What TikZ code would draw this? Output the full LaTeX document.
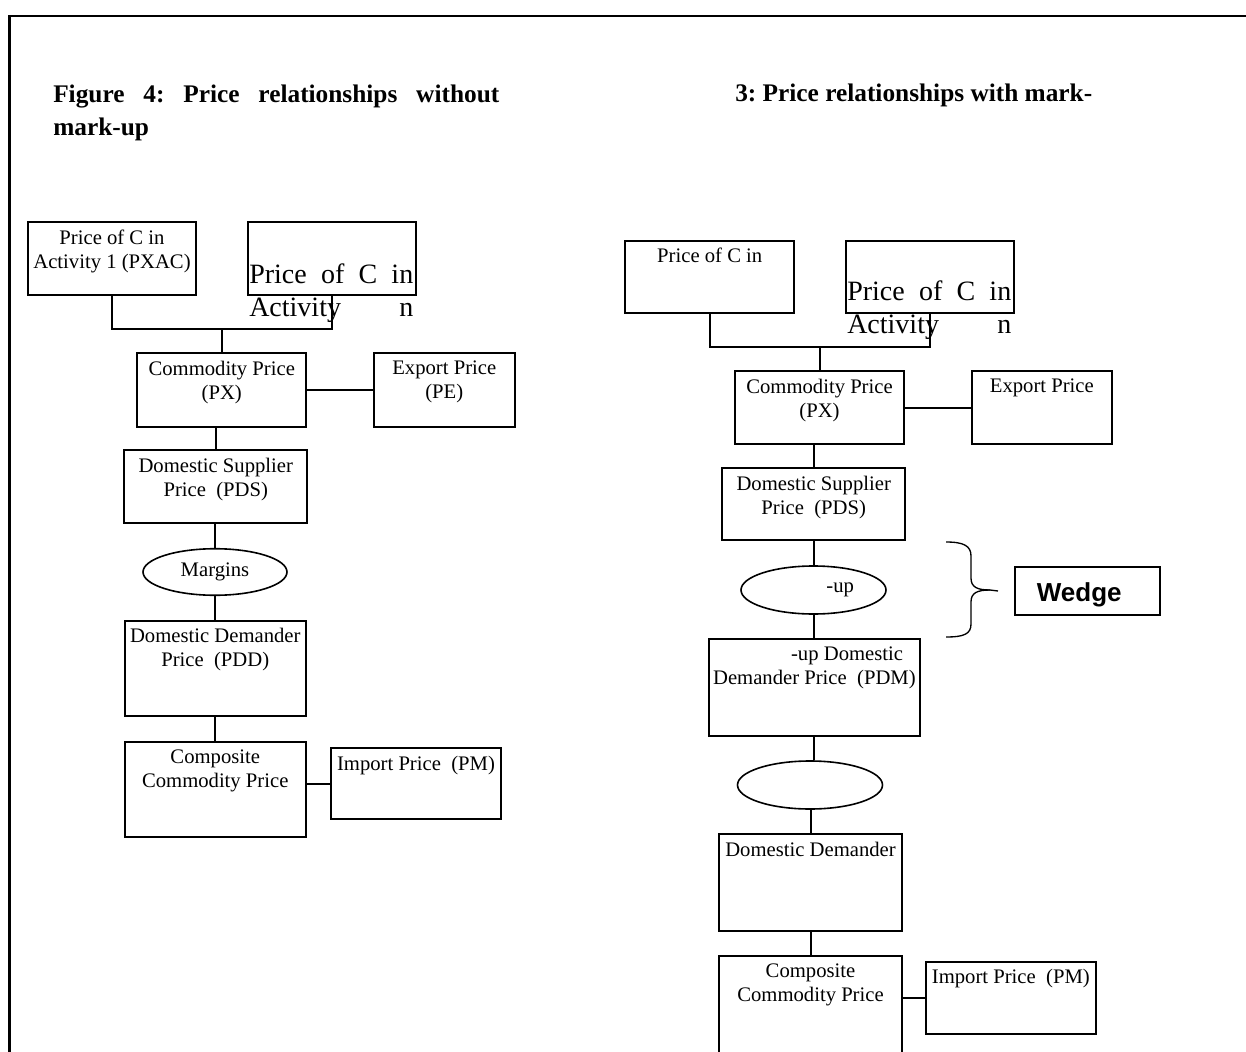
\documentclass[tikz,border=0pt]{standalone}
\usepackage{fontspec}
\setmainfont{Liberation Serif}
\newfontfamily\wedgefont{Liberation Sans}
\usetikzlibrary{shapes.geometric}
\tikzset{
  pbox/.style={draw, line width=1.5pt, rectangle, inner sep=0pt},
  pell/.style={draw, line width=1.2pt, ellipse, inner sep=0pt, font=\fontsize{15.5pt}{18pt}\selectfont},
  ptxt/.style={anchor=north, inner sep=0pt, align=center, font=\fontsize{15.5pt}{18pt}\selectfont},
  pbig/.style={anchor=north west, inner sep=0pt, align=left, font=\fontsize{21pt}{24.5pt}\selectfont},
  ptitle/.style={inner sep=0pt, align=left, font=\fontsize{19pt}{24.5pt}\selectfont\bfseries\frenchspacing},
  plink/.style={line width=1.5pt},
  pbrace/.style={line width=1pt}
}

\begin{document}
\begin{tikzpicture}[x=0.75pt,y=0.75pt,yscale=-1,xscale=1]
\useasboundingbox (0,0) rectangle (1246,1052);

%Frame
\draw [line width=2pt] (9.5,1060) -- (9.5,16) -- (1260,16) ;

%Titles
\node [ptitle, anchor=north west] (titlel) at (53,85) {\makebox[334.5pt][s]{Figure 4: Price relationships without}\\mark-up};
\node [ptitle, anchor=base west] (titler) at (735,102) {3: Price relationships with mark-};

%Left: Rectangles
\node [pbox, minimum width=126pt, minimum height=54.75pt] (a1l) at (112,258.5) {};
\node [pbox, minimum width=126pt, minimum height=54.75pt] (anl) at (332,258.5) {};
\node [pbox, minimum width=126.4pt, minimum height=55.5pt] (pxl) at (221.75,390) {};
\node [pbox, minimum width=105.5pt, minimum height=55.5pt] (pel) at (444.3,390) {};
\node [pbox, minimum width=136.9pt, minimum height=54.4pt] (pdsl) at (215.75,486.75) {};
\node [pell, minimum width=108pt, minimum height=34.9pt] (mrg) at (215,572) {Margins};
\node [pbox, minimum width=136.1pt, minimum height=71.6pt] (pddl) at (215.25,668.25) {};
\node [pbox, minimum width=136.1pt, minimum height=71.6pt] (ccpl) at (215.25,789.75) {};
\node [pbox, minimum width=127.5pt, minimum height=53.25pt] (pml) at (416,783.5) {};

%Left: Text
\node [ptxt] (a1l-t) at (112,229.5) {Price of C in\\Activity 1 (PXAC)};
\node [pbig] (anl-t) at (249,264) {\makebox[123pt][s]{Price of C in}\\\makebox[123pt][s]{Activity n}};
\node [ptxt] (pxl-t) at (221.75,361) {Commodity Price\\(PX)};
\node [ptxt] (pel-t) at (444.3,361) {Export Price\\(PE)};
\node [ptxt] (pdsl-t) at (215.75,458) {Domestic Supplier\\Price\ \ (PDS)};
\node [ptxt] (pddl-t) at (215.25,628) {Domestic Demander\\Price\ \ (PDD)};
\node [ptxt] (ccpl-t) at (215.25,749.5) {Composite\\Commodity Price};
\node [ptxt] (pml-t) at (416,755.5) {Import Price\ \ (PM)};

%Left: Straight Lines
\coordinate (jl) at (221.75,329);
\draw [plink] (a1l.south) |- (jl) -| (anl.south) ;
\draw [plink] (jl) -- (pxl.north) ;
\draw [plink] (pxl.east) -- (pel.west) ;
\draw [plink] (pdsl.north) -- (pdsl.north |- pxl.south) ;
\draw [plink] (mrg.north) -- (mrg.north |- pdsl.south) ;
\draw [plink] (mrg.south) -- (mrg.south |- pddl.north) ;
\draw [plink] (pddl.south) -- (ccpl.north) ;
\draw [plink] (pml.west) -- (pml.west -| ccpl.east) ;

%Right: Rectangles
\node [pbox, minimum width=126.4pt, minimum height=54.5pt] (a1r) at (709.75,277) {};
\node [pbox, minimum width=126.4pt, minimum height=54.5pt] (anr) at (929.8,277) {};
\node [pbox, minimum width=126.75pt, minimum height=54.75pt] (pxr) at (819.5,407.5) {};
\node [pbox, minimum width=105.3pt, minimum height=54.75pt] (per) at (1041.8,407.5) {};
\node [pbox, minimum width=137pt, minimum height=54pt] (pdsr) at (813.7,504) {};
\node [pell, minimum width=108.75pt, minimum height=36pt] (mku) at (813.5,590) {\hspace*{40pt}-up};
\node [pbox, minimum width=158.4pt, minimum height=72.4pt] (pdm) at (814.4,687.25) {};
\node [pell, minimum width=108.75pt, minimum height=36pt] (ell2) at (810,785) {};
\node [pbox, minimum width=137.25pt, minimum height=72.5pt] (ddr) at (810.5,882.3) {};
\node [pbox, minimum width=137.25pt, minimum height=76.5pt] (ccpr) at (810.5,1007) {};
\node [pbox, minimum width=127.3pt, minimum height=54pt] (pmr) at (1010.85,998) {};
\node [pbox, minimum width=108.4pt, minimum height=36pt, text height=20pt, font=\wedgefont\bfseries\fontsize{19.5pt}{22pt}\selectfont] (wedge) at (1087.25,591) {Wedge\hspace*{12pt}};

%Right: Text
\node [ptxt] (a1r-t) at (709.75,248) {Price of C in};
\node [pbig] (anr-t) at (847,281) {\makebox[123pt][s]{Price of C in}\\\makebox[123pt][s]{Activity n}};
\node [ptxt] (pxr-t) at (819.5,378.5) {Commodity Price\\(PX)};
\node [ptxt] (per-t) at (1041.8,378.5) {Export Price};
\node [ptxt] (pdsr-t) at (813.7,476) {Domestic Supplier\\Price\ \ (PDS)};
\node [ptxt] (pdm-t) at (814.4,647) {\hspace*{49pt}-up Domestic\\Demander Price\ \ (PDM)};
\node [ptxt] (ddr-t) at (810.5,842) {Domestic Demander};
\node [ptxt] (ccpr-t) at (810.5,963.5) {Composite\\Commodity Price};
\node [ptxt] (pmr-t) at (1010.85,969) {Import Price\ \ (PM)};

%Right: Straight Lines
\coordinate (jr) at (819.5,346.7);
\draw [plink] (a1r.south) |- (jr) -| (anr.south) ;
\draw [plink] (jr) -- (pxr.north) ;
\draw [plink] (pxr.east) -- (per.west) ;
\draw [plink] (pdsr.north) -- (pdsr.north |- pxr.south) ;
\draw [plink] (mku.north) -- (mku.north |- pdsr.south) ;
\draw [plink] (pdm.north) -- (pdm.north |- mku.south) ;
\draw [plink] (pdm.south) -- (pdm.south |- ell2.north) ;
\draw [plink] (ddr.north) -- (ddr.north |- ell2.south) ;
\draw [plink] (ddr.south) -- (ccpr.north) ;
\draw [plink] (pmr.west) -- (pmr.west -| ccpr.east) ;

%Curve Lines: brace
\draw [pbrace] (946,542) .. controls (964,542) and (971,546) .. (971,556) -- (971,578) .. controls (971,587) and (977,590) .. (990,590) -- (998,591) ;
\draw [pbrace] (990,590) .. controls (977,590) and (971,593) .. (971,602) -- (971,624) .. controls (971,634) and (964,637) .. (946,637) ;

\end{tikzpicture}
\end{document}
